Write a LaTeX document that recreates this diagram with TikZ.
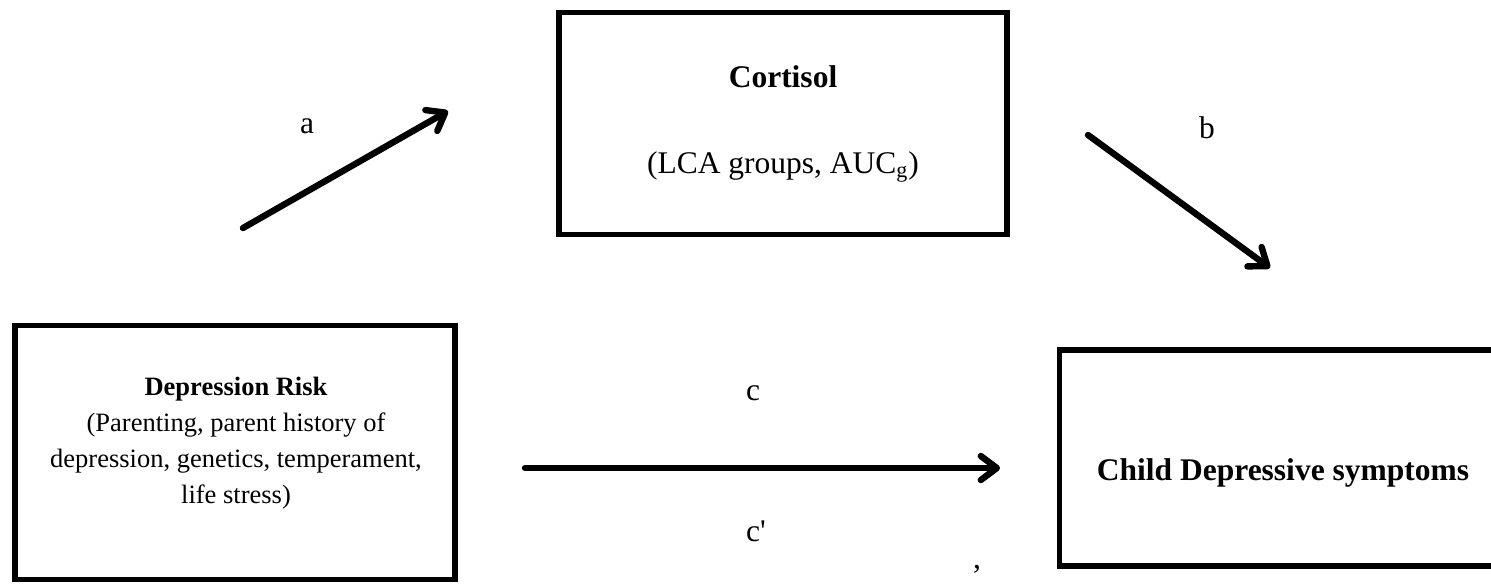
\documentclass[tikz,border=0pt]{standalone}
\usepackage{fontspec}
\setmainfont{Liberation Serif}
\usetikzlibrary{arrows.meta}

\begin{document}
\begin{tikzpicture}[x=0.5pt,y=0.5pt,yscale=-1,
  varbox/.style={draw, line width=2.8pt, inner sep=0pt, outer sep=0pt},
  patharrow/.style={line width=3.2pt, line cap=round, -{Straight Barb[length=8pt,width=12pt,round]}},
  bigtext/.style={anchor=base, inner sep=0pt, font=\fontsize{15.75}{19}\selectfont},
  smalltext/.style={anchor=base, inner sep=0pt, font=\fontsize{13.25}{16}\selectfont}
]
\useasboundingbox (0,0) rectangle (1491,584);

%Shape: Rectangle [Cortisol]
\node [varbox, minimum width=224pt, minimum height=111pt] (cortisol) at (783,123.5) {};
%Shape: Rectangle [Depression Risk]
\node [varbox, minimum width=220pt, minimum height=127pt] (risk) at (235,452.5) {};
%Shape: Rectangle [Child Depressive symptoms]
\node [varbox, minimum width=223.5pt, minimum height=108pt] (child) at (1283,458) {};

%Straight Lines [a]
\coordinate (a-tail) at (243,228);
\coordinate (a-tip) at (448,111);
\draw [patharrow] (a-tail) -- (a-tip);
%Straight Lines [b]
\coordinate (b-tail) at (1088,135);
\coordinate (b-tip) at (1270,268);
\draw [patharrow] (b-tail) -- (b-tip);
%Straight Lines [c]
\coordinate (c-tail) at (525,468);
\coordinate (c-tip) at (1000,468);
\draw [patharrow] (c-tail) -- (c-tip);

% Text Node
\node [bigtext] (cortisol-title) at (783,87) {\textbf{Cortisol}};
% Text Node
\node [bigtext] (cortisol-sub) at (783,173) {(LCA groups, AUC\textsubscript{g})};
% Text Node
\node [smalltext] (risk-title) at (236,395) {\textbf{Depression Risk}};
% Text Node
\node [smalltext] (risk-line1) at (236,431) {(Parenting, parent history of};
% Text Node
\node [smalltext] (risk-line2) at (236,467) {depression, genetics, temperament,};
% Text Node
\node [smalltext] (risk-line3) at (236,503) {life stress)};
% Text Node
\node [bigtext] (child-title) at (1283,480) {\textbf{Child Depressive symptoms}};
% Text Node
\node [bigtext] (lbl-a) at (307,133) {a};
% Text Node
\node [bigtext] (lbl-b) at (1207,138) {b};
% Text Node
\node [bigtext] (lbl-c) at (753,400) {c};
% Text Node
\node [bigtext] (lbl-cprime) at (756,541) {c\textquotesingle};
% Text Node
\node [bigtext] (stray-comma) at (977,568) {,};

\end{tikzpicture}
\end{document}
